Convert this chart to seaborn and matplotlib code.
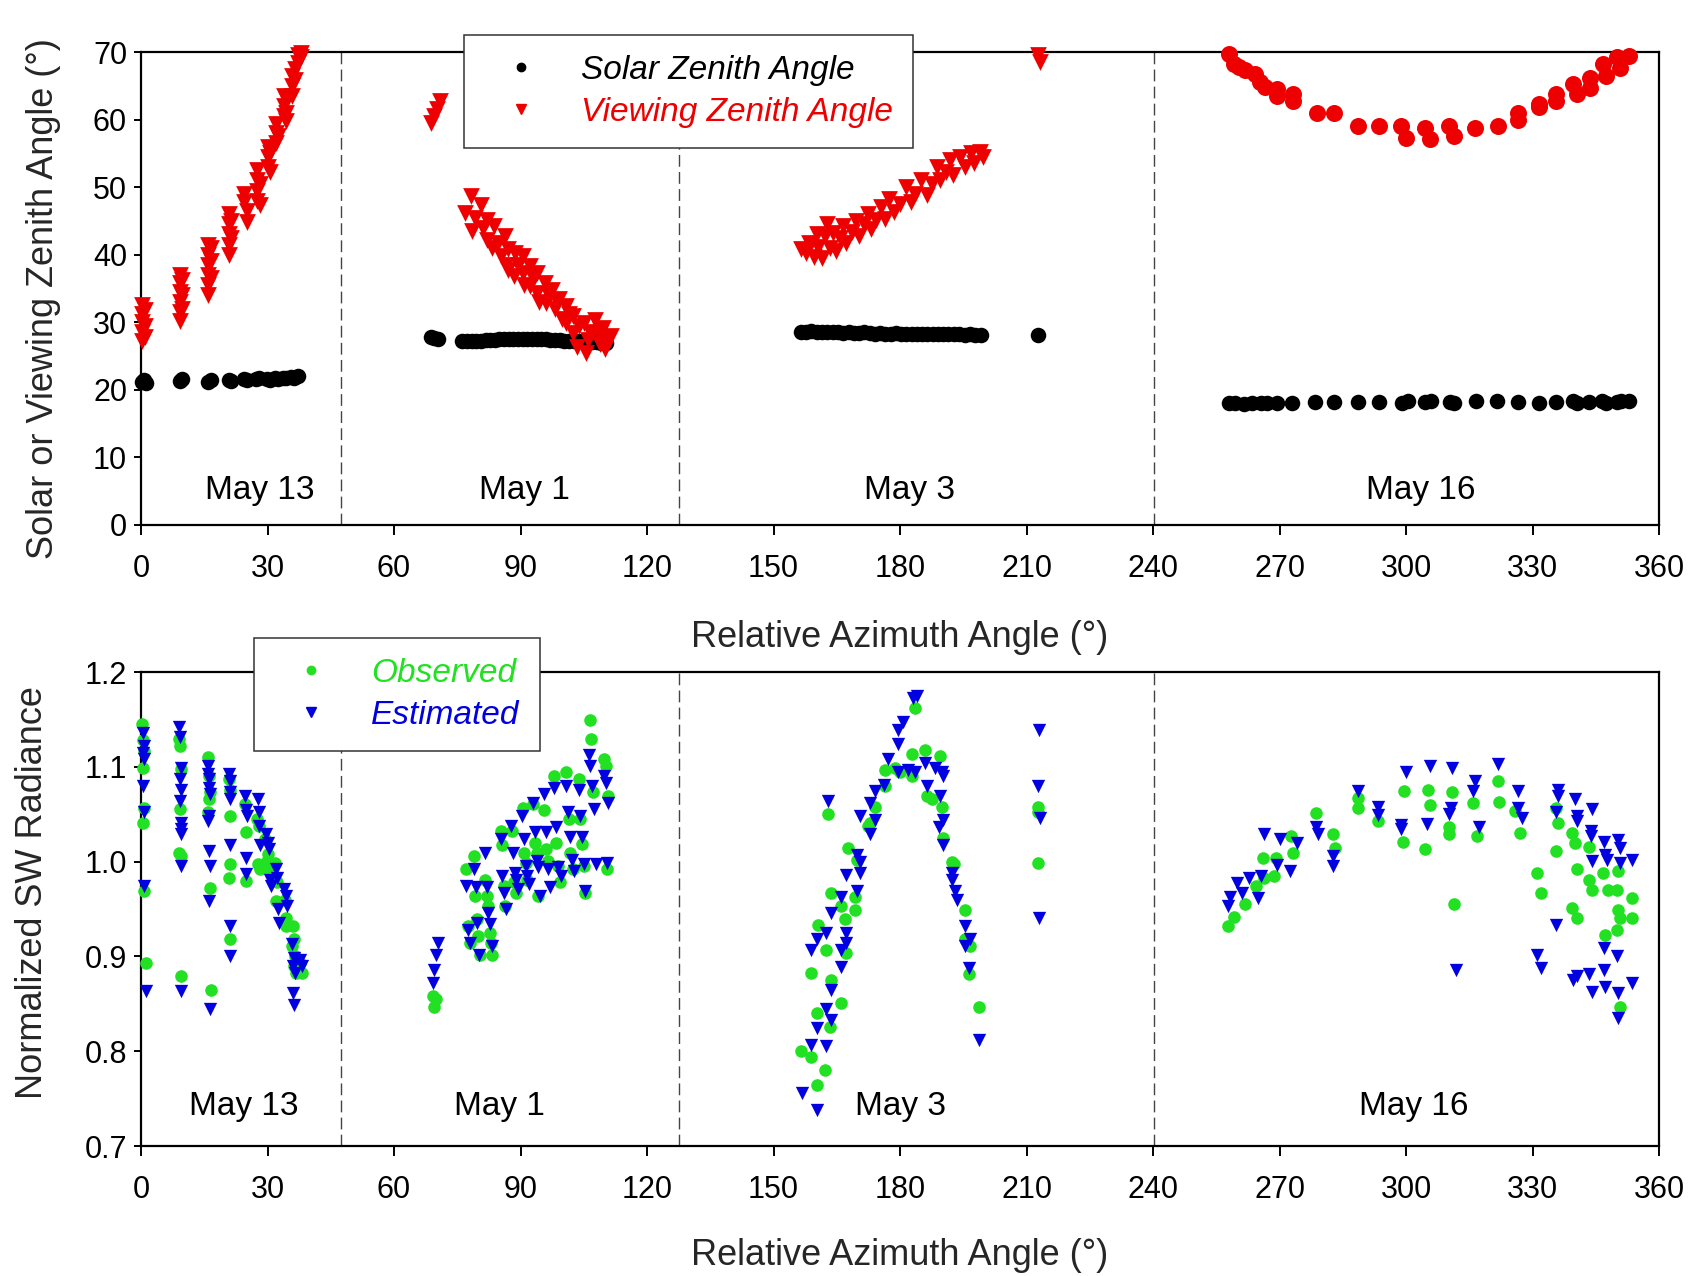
import numpy as np
import pandas as pd
import matplotlib
matplotlib.use("Agg")
import matplotlib.pyplot as plt
from matplotlib.lines import Line2D
import seaborn as sns

# ---------------- DATA (top panel) ----------------
# Solar zenith angle (black dots)
sza13_x = [0.3, 0.8, 1.2, 9.2, 9.8, 15.8, 16.5, 20.8, 21.3, 24.5, 25.2, 27.3, 28.0, 29.8, 30.5, 31.8, 32.5, 33.6, 34.3, 35.5, 36.2, 37.3]
sza13_y = [21.2, 21.5, 21.0, 21.3, 21.6, 21.2, 21.5, 21.4, 21.3, 21.6, 21.5, 21.6, 21.7, 21.6, 21.5, 21.7, 21.6, 21.8, 21.7, 21.9, 21.8, 22.0]
sza1_x = [68.8, 69.6, 70.4, 76.2, 77.3, 78.4, 79.5, 80.6, 81.7, 82.8, 83.9, 85.0, 86.1, 87.2, 88.3, 89.4, 90.5, 91.6, 92.7, 93.8, 94.9, 96.0, 97.1, 98.2, 99.3, 100.4, 101.5, 102.6, 103.7, 104.8, 105.9, 107.0, 108.1, 109.2, 110.3]
sza1_y = [27.8, 27.7, 27.6, 27.2, 27.2, 27.3, 27.3, 27.3, 27.4, 27.4, 27.4, 27.5, 27.5, 27.5, 27.5, 27.6, 27.6, 27.6, 27.6, 27.5, 27.5, 27.5, 27.4, 27.4, 27.4, 27.3, 27.3, 27.3, 27.2, 27.2, 27.2, 27.1, 27.1, 27.0, 27.0]
sza3_x = [156.5, 157.8, 159.0, 160.3, 161.5, 162.8, 164.0, 165.3, 166.5, 167.8, 169.0, 170.3, 171.5, 172.8, 174.0, 175.3, 176.5, 177.8, 179.0, 180.3, 181.5, 182.8, 184.0, 185.3, 186.5, 187.8, 189.0, 190.3, 191.5, 192.8, 194.0, 195.3, 196.5, 197.8, 199.2, 212.8]
sza3_y = [28.6, 28.6, 28.7, 28.6, 28.5, 28.6, 28.5, 28.5, 28.4, 28.5, 28.4, 28.4, 28.5, 28.4, 28.3, 28.4, 28.3, 28.3, 28.4, 28.3, 28.3, 28.2, 28.3, 28.3, 28.2, 28.3, 28.2, 28.2, 28.3, 28.2, 28.2, 28.1, 28.2, 28.1, 28.1, 28.1]
sza16_x = [258.0, 259.5, 261.5, 263.5, 265.5, 267.0, 269.5, 273.0, 278.5, 283.0, 288.5, 293.5, 299.0, 300.5, 304.5, 306.0, 310.5, 311.5, 316.5, 321.5, 326.5, 331.5, 335.5, 339.5, 340.5, 343.5, 346.5, 347.5, 350.0, 351.0, 353.0]
sza16_y = [18.0, 18.1, 17.9, 18.0, 18.1, 18.0, 18.1, 18.1, 18.2, 18.2, 18.2, 18.2, 18.1, 18.3, 18.2, 18.3, 18.2, 18.1, 18.3, 18.4, 18.2, 18.1, 18.2, 18.3, 18.1, 18.2, 18.3, 18.1, 18.2, 18.3, 18.3]

# Viewing zenith angle (red)
vza13_x = [0.3, 0.3, 0.3, 0.3, 0.3, 0.9, 0.9, 0.9, 9.2, 9.2, 9.2, 9.2, 9.2, 9.2, 9.8, 9.8, 9.8,
           15.8, 15.8, 15.8, 15.8, 15.8, 15.8, 16.5, 16.5, 16.5, 20.8, 20.8, 20.8, 20.8, 20.8, 21.3, 21.3,
           24.5, 24.5, 25.2, 25.2, 27.5, 27.5, 27.5, 27.5, 28.2, 28.2, 30.0, 30.0, 30.0, 30.6, 30.6,
           32.0, 32.0, 32.0, 32.5, 33.8, 33.8, 33.8, 34.5, 34.5, 34.5, 35.8, 35.8, 35.8, 36.5, 36.5,
           37.3, 37.3, 38.0, 38.0]
vza13_y = [32.5, 31.2, 30.0, 28.5, 27.2, 31.8, 29.5, 27.8, 37.0, 35.8, 34.5, 33.0, 31.5, 30.2, 36.3, 34.0, 32.0,
           41.5, 40.0, 38.5, 37.0, 35.5, 34.0, 41.0, 39.0, 36.5, 46.0, 44.5, 43.0, 41.5, 40.0, 45.0, 42.5,
           49.0, 47.8, 46.5, 44.8, 52.5, 51.0, 49.5, 48.0, 50.5, 47.3, 56.0, 54.5, 53.0, 55.0, 52.3,
           59.3, 58.0, 56.5, 57.5, 63.5, 62.0, 60.5, 63.0, 61.0, 59.8, 66.5, 65.0, 63.5, 67.5, 65.8,
           69.5, 68.3, 69.8, 69.2]
vza1_x = [68.8, 69.5, 70.3, 70.9,
          76.9, 78.2, 78.6, 79.3, 80.7, 81.2, 82.0, 82.0, 83.7, 83.2, 84.6, 85.4, 86.3, 86.5, 87.1,
          87.1, 88.8, 88.5, 89.5, 90.5, 90.5, 90.8, 92.2, 92.2, 93.0, 94.0, 94.0, 94.5, 95.7, 96.1,
          96.5, 97.4, 98.2, 98.5, 99.1, 99.8, 100.8, 100.8, 101.5, 102.5, 102.5, 103.3, 103.8, 105.0, 105.9,
          105.5, 106.5, 107.6, 108.4, 108.8, 110.1, 110.1, 111.4, 109.5]
vza1_y = [59.5, 60.5, 61.5, 62.7,
          46.2, 48.7, 43.5, 45.5, 47.4, 44.0, 45.2, 42.2, 44.2, 41.0, 41.8, 39.8, 42.7, 38.5, 40.8,
          37.8, 40.3, 36.8, 38.5, 39.8, 37.3, 35.5, 38.3, 35.3, 36.5, 37.3, 34.3, 33.0, 35.8, 32.9,
          34.2, 34.8, 31.9, 33.3, 33.4, 30.5, 32.4, 29.9, 31.2, 30.9, 28.4, 26.4, 29.5, 29.9, 27.4,
          25.5, 28.5, 30.4, 28.4, 26.8, 27.4, 26.0, 27.9, 29.2]
vza3_x = [156.5, 157.8, 158.5, 159.5, 160.2, 160.6, 161.5, 162.2, 162.8, 163.4, 164.0, 164.8, 165.7, 166.5, 167.3,
          168.5, 169.5, 170.2, 171.5, 172.5, 173.2, 174.4, 175.5, 176.5, 177.5, 178.5, 180.0, 181.5, 182.5, 183.5,
          185.0, 186.3, 187.5, 188.7, 189.5, 190.8, 191.8, 192.6, 194.2, 195.5, 196.8, 197.5, 199.0, 199.7,
          212.8, 213.2]
vza3_y = [40.8, 40.3, 41.8, 39.6, 43.0, 41.2, 39.5, 42.8, 44.5, 41.0, 43.2, 40.5, 42.5, 44.3, 41.8,
          43.3, 45.0, 42.8, 44.5, 46.0, 43.8, 45.2, 47.0, 45.3, 48.2, 46.3, 47.5, 50.0, 47.8, 49.0,
          51.0, 48.8, 50.5, 53.0, 51.0, 52.2, 54.0, 51.8, 54.5, 53.0, 55.0, 53.5, 55.2, 54.5,
          69.5, 68.5]
vza16_x = [258.1, 259.3, 260.5, 261.7, 264.2, 265.4, 266.6, 269.5, 269.5, 273.2, 273.2, 278.9, 283.0, 288.7, 293.6,
           298.9, 300.1, 304.6, 305.8, 310.3, 311.5, 316.4, 321.7, 326.6, 326.6, 331.5, 331.5, 335.6, 335.6,
           339.6, 340.5, 343.7, 343.7, 346.7, 347.5, 350.0, 350.8, 352.8]
vza16_y = [69.7, 68.2, 67.8, 67.4, 66.7, 65.5, 64.8, 64.5, 63.5, 63.8, 62.8, 61.0, 61.0, 59.0, 59.0,
           59.0, 57.3, 58.8, 57.1, 59.0, 57.6, 58.8, 59.0, 61.0, 60.0, 62.3, 61.8, 63.8, 62.8,
           65.2, 63.8, 66.2, 64.7, 68.2, 66.5, 69.2, 67.7, 69.4]

# ---------------- DATA (bottom panel) ----------------
obs13_x = [0.3, 0.5, 0.8, 0.5, 0.8, 0.5, 0.8, 1.2, 9.0, 9.3, 9.5, 9.3, 9.0, 9.5, 9.6,
           15.9, 16.1, 16.3, 16.1, 16.0, 16.3, 16.6, 20.8, 21.0, 21.2, 21.0, 20.8, 21.0,
           24.6, 25.0, 24.8, 27.6, 28.0, 27.8, 28.2, 29.5, 30.0, 29.8, 30.2, 31.8, 32.2, 32.0,
           34.1, 34.5, 34.3, 36.0, 36.3, 35.8, 36.5, 36.2, 36.8, 37.7, 38.2]
obs13_y = [1.145, 1.128, 1.117, 1.099, 1.057, 1.041, 0.969, 0.893, 1.129, 1.122, 1.098, 1.055, 1.009, 1.006, 0.879,
           1.110, 1.090, 1.073, 1.066, 1.052, 0.972, 0.865, 1.087, 1.076, 1.048, 0.997, 0.983, 0.918,
           1.061, 1.031, 0.980, 1.045, 1.038, 0.997, 0.992, 1.024, 1.008, 1.001, 0.992, 0.999, 0.978, 0.958,
           0.960, 0.941, 0.932, 0.932, 0.918, 0.911, 0.900, 0.890, 0.883, 0.893, 0.883]
est13_x = [0.4, 0.6, 0.5, 0.7, 0.5, 0.6, 0.8, 1.3, 9.1, 9.3, 9.4, 9.2, 9.5, 9.3, 9.4, 9.6, 9.5, 9.4, 9.6,
           15.9, 16.0, 16.2, 16.1, 16.3, 16.2, 16.0, 16.1, 16.3, 16.1, 16.4, 20.9, 21.1, 21.0, 21.2, 21.0, 21.0, 21.1,
           24.7, 24.9, 25.2, 24.8, 25.0, 27.7, 28.1, 27.9, 28.3, 29.6, 30.0, 30.3, 30.6, 30.9,
           31.9, 32.3, 32.5, 32.8, 34.0, 34.4, 34.6, 35.9, 36.3, 36.0, 36.6, 36.1, 36.4, 37.8, 38.3]
est13_y = [1.136, 1.122, 1.115, 1.108, 1.080, 1.052, 0.974, 0.863, 1.142, 1.131, 1.099, 1.087, 1.076, 1.064, 1.041, 1.034, 1.029, 0.995, 0.863,
           1.101, 1.092, 1.087, 1.078, 1.071, 1.048, 1.043, 1.011, 0.995, 0.958, 0.844, 1.092, 1.085, 1.073, 1.066, 1.017, 0.932, 0.900,
           1.069, 1.054, 1.048, 1.004, 0.987, 1.066, 1.052, 1.038, 1.017, 1.029, 1.020, 1.013, 0.981, 0.974,
           0.992, 0.983, 0.950, 0.935, 0.971, 0.964, 0.953, 0.913, 0.898, 0.890, 0.883, 0.861, 0.849, 0.896, 0.890]
obs1_x = [69.3, 69.6, 70.0, 77.0, 77.5, 78.0, 79.0, 79.3, 79.6, 80.0, 80.3, 81.5, 82.0, 82.4, 82.8, 83.0, 83.3,
          85.3, 85.6, 86.0, 86.4, 88.0, 88.5, 89.0, 90.5, 90.8, 91.2, 91.6, 93.0, 93.4, 93.8, 94.2,
          95.5, 96.0, 96.5, 98.0, 98.5, 99.0, 99.4, 100.8, 101.4, 101.8, 102.4, 103.8, 104.2, 104.6, 105.0, 105.3,
          106.5, 106.8, 107.2, 109.8, 110.3, 110.8, 110.5]
obs1_y = [0.858, 0.847, 0.855, 0.992, 0.932, 0.914, 1.006, 0.964, 0.939, 0.921, 0.902, 0.981, 0.964, 0.953, 0.925, 0.914, 0.902,
          1.032, 1.017, 0.974, 0.953, 1.032, 0.978, 0.967, 1.057, 1.009, 0.999, 0.981, 1.061, 1.020, 1.009, 0.964,
          1.054, 1.013, 1.001, 1.090, 1.020, 0.995, 0.978, 1.094, 1.045, 1.009, 0.992, 1.087, 1.045, 1.019, 0.995, 0.967,
          1.149, 1.129, 1.073, 1.108, 1.101, 1.069, 0.992]
est1_x = [70.4, 70.0, 69.5, 69.2, 77.0, 77.5, 78.0, 79.0, 79.4, 79.8, 80.2, 81.5, 82.0, 82.4, 82.8, 83.2,
          85.3, 85.7, 86.1, 86.5, 87.8, 88.2, 88.6, 89.0, 89.4, 90.4, 90.8, 91.2, 91.6, 92.0,
          93.0, 93.4, 93.8, 94.2, 94.6, 95.5, 96.0, 96.5, 97.0, 98.0, 98.5, 99.0, 99.5,
          100.8, 101.3, 101.8, 102.3, 102.8, 103.8, 104.2, 104.6, 105.0, 105.4,
          106.2, 106.6, 107.0, 107.4, 107.8, 109.8, 110.3, 110.8, 110.5]
est1_y = [0.914, 0.902, 0.886, 0.872, 0.974, 0.928, 0.914, 0.992, 0.973, 0.935, 0.902, 1.009, 0.973, 0.946, 0.934, 0.911,
          1.024, 0.985, 0.967, 0.950, 1.038, 1.009, 0.988, 0.981, 0.971, 1.048, 1.024, 0.995, 0.985, 0.976,
          1.062, 1.031, 1.001, 0.994, 0.964, 1.071, 1.031, 0.992, 0.973, 1.078, 1.036, 0.994, 0.985,
          1.080, 1.052, 1.026, 1.002, 0.990, 1.076, 1.048, 1.026, 0.997, 0.969,
          1.112, 1.101, 1.080, 1.055, 0.997, 1.090, 1.083, 1.062, 0.999]
obs3_x = [156.6, 159.0, 160.2, 162.2, 159.0, 160.2, 160.6, 162.5, 163.3, 163.7, 163.7, 162.9, 166.1, 166.1, 166.9, 167.3,
          167.7, 169.3, 169.3, 169.7, 172.5, 172.9, 174.1, 176.5, 176.5, 178.8, 180.0, 182.8, 183.6, 182.8, 186.0, 189.6,
          186.4, 187.6, 189.9, 190.3, 192.3, 192.7, 195.5, 195.5, 196.7, 196.3, 198.7, 212.8, 212.8, 212.8]
obs3_y = [0.800, 0.794, 0.764, 0.780, 0.882, 0.840, 0.933, 0.907, 0.826, 0.875, 0.967, 1.050, 0.953, 0.851, 0.939, 0.904,
          1.014, 0.963, 0.949, 1.002, 1.038, 1.041, 1.058, 1.080, 1.097, 1.099, 1.094, 1.113, 1.162, 1.090, 1.118, 1.111,
          1.069, 1.066, 1.058, 1.025, 1.000, 0.997, 0.949, 0.918, 0.911, 0.881, 0.847, 1.058, 1.052, 0.999]
est3_x = [156.8, 160.2, 159.0, 162.5, 160.2, 162.5, 163.7, 163.7, 159.0, 160.2, 162.5, 162.9, 166.1, 166.1, 167.3, 167.3,
          163.7, 166.1, 167.3, 169.7, 170.5, 169.7, 170.5, 170.5, 172.9, 174.1, 172.9, 174.1, 176.1, 177.2, 179.6, 179.6,
          180.8, 179.6, 182.0, 183.2, 184.0, 183.6, 186.0, 186.4, 188.4, 189.6, 189.9, 190.3, 190.3, 189.2, 190.3, 192.3,
          192.3, 193.1, 193.5, 195.5, 195.5, 196.7, 196.3, 198.7, 213.0, 212.7, 213.1, 212.9]
est3_y = [0.756, 0.738, 0.807, 0.805, 0.824, 0.845, 0.833, 0.865, 0.907, 0.918, 0.925, 1.064, 0.889, 0.907, 0.925, 0.914,
          0.946, 0.963, 0.986, 0.969, 0.988, 1.007, 1.000, 1.048, 1.029, 1.044, 1.062, 1.074, 1.081, 1.108, 1.124, 1.139,
          1.147, 1.095, 1.097, 1.173, 1.175, 1.094, 1.104, 1.080, 1.099, 1.069, 1.095, 1.090, 1.044, 1.037, 1.018, 0.988,
          0.981, 0.969, 0.960, 0.932, 0.911, 0.918, 0.888, 0.812, 1.139, 1.080, 1.046, 0.940]
obs16_x = [257.7, 259.1, 261.9, 264.4, 266.0, 266.4, 269.1, 268.7, 272.8, 273.2, 278.7, 282.8, 283.2, 288.5, 288.5,
           293.4, 299.6, 299.2, 305.3, 305.7, 304.5, 311.0, 310.2, 310.2, 311.4, 315.9, 316.8, 321.7, 322.1, 325.8,
           327.0, 331.1, 331.9, 335.6, 336.0, 335.6, 339.3, 340.1, 340.5, 339.3, 340.5, 343.4, 343.4, 344.2, 346.7,
           347.2, 348.0, 350.0, 350.3, 350.3, 350.7, 350.0, 350.7, 353.6, 353.6]
obs16_y = [0.932, 0.942, 0.955, 0.974, 1.004, 0.983, 1.004, 0.985, 1.027, 1.009, 1.051, 1.029, 1.014, 1.067, 1.057,
           1.043, 1.074, 1.021, 1.076, 1.060, 1.013, 1.073, 1.037, 1.029, 0.955, 1.062, 1.027, 1.085, 1.063, 1.053,
           1.030, 0.988, 0.967, 1.057, 1.041, 1.011, 1.030, 1.020, 0.992, 0.951, 0.940, 1.015, 0.981, 0.970, 0.988,
           0.923, 0.970, 0.970, 0.990, 0.949, 0.940, 0.928, 0.847, 0.962, 0.940]
est16_x = [257.7, 258.2, 259.9, 261.1, 262.7, 264.8, 265.6, 266.4, 269.3, 270.1, 272.6, 274.2, 278.7, 279.1, 282.8,
           282.8, 288.5, 293.4, 293.4, 298.8, 298.8, 300.0, 304.9, 305.7, 311.0, 310.6, 310.2, 311.9, 316.4, 316.0,
           317.2, 321.9, 326.6, 326.6, 327.4, 331.1, 331.9, 336.0, 336.0, 335.6, 335.6, 340.1, 340.5, 340.5, 339.6,
           340.5, 344.2, 343.8, 343.8, 344.2, 343.4, 344.2, 346.9, 347.3, 347.7, 346.9, 346.9, 347.3, 350.3, 350.7,
           350.7, 350.0, 350.3, 350.3, 353.6, 353.6]
est16_y = [0.953, 0.963, 0.977, 0.967, 0.983, 0.962, 0.985, 1.029, 0.996, 1.024, 0.990, 1.020, 1.037, 1.029, 1.006,
           0.995, 1.074, 1.058, 1.049, 1.039, 1.034, 1.094, 1.040, 1.101, 1.099, 1.057, 1.050, 0.886, 1.085, 1.074,
           1.037, 1.103, 1.074, 1.057, 1.046, 0.902, 0.888, 1.076, 1.069, 1.052, 0.933, 1.066, 1.048, 1.043, 0.875,
           0.879, 1.055, 1.032, 1.027, 1.001, 0.881, 0.862, 1.021, 1.007, 1.002, 0.909, 0.886, 0.868, 1.023, 1.014,
           0.998, 0.900, 0.861, 0.835, 1.002, 0.872]

day_labels = ["May 13", "May 1", "May 3", "May 16"]
day_label_x_top = [28.2, 90.9, 182.3, 303.4]
day_label_x_bot = [24.3, 85.0, 180.2, 301.8]
day_bounds = [47.5, 127.5, 240.3]
x_ticks = list(range(0, 361, 30))
y_ticks_top = list(range(0, 71, 10))
y_ticks_bot = [0.7, 0.8, 0.9, 1.0, 1.1, 1.2]

# ---------------- STYLE ----------------
sns.set_style("ticks")
plt.rcParams["font.family"] = ["Liberation Sans", "DejaVu Sans"]

RED = "#ee0000"
GREEN = "#22e022"
BLUE = "#0000e0"

W, H = 1692, 1276
fig = plt.figure(figsize=(W / 100, H / 100), dpi=100)
ax1 = fig.add_axes([141 / W, 1 - 525 / H, (1659 - 141) / W, (525 - 52) / H])
ax2 = fig.add_axes([141 / W, 1 - 1146 / H, (1659 - 141) / W, (1146 - 672) / H])

def cat(*lists):
    out = []
    for l in lists:
        out += l
    return out

top_sza = pd.DataFrame({"x": cat(sza13_x, sza1_x, sza3_x, sza16_x), "y": cat(sza13_y, sza1_y, sza3_y, sza16_y)})
top_vza = pd.DataFrame({"x": cat(vza13_x, vza1_x, vza3_x), "y": cat(vza13_y, vza1_y, vza3_y)})
top_vza16 = pd.DataFrame({"x": vza16_x, "y": vza16_y})
bot_obs = pd.DataFrame({"x": cat(obs13_x, obs1_x, obs3_x, obs16_x), "y": cat(obs13_y, obs1_y, obs3_y, obs16_y)})
bot_est = pd.DataFrame({"x": cat(est13_x, est1_x, est3_x, est16_x), "y": cat(est13_y, est1_y, est3_y, est16_y)})

common = dict(linewidth=0, legend=False, clip_on=False)
sns.scatterplot(data=top_sza, x="x", y="y", ax=ax1, color="black", marker="o", s=125, zorder=3, **common)
sns.scatterplot(data=top_vza, x="x", y="y", ax=ax1, color=RED, marker="v", s=145, zorder=4, **common)
sns.scatterplot(data=top_vza16, x="x", y="y", ax=ax1, color=RED, marker="o", s=150, zorder=4, **common)
sns.scatterplot(data=bot_obs, x="x", y="y", ax=ax2, color=GREEN, marker="o", s=82, zorder=3, **common)
sns.scatterplot(data=bot_est, x="x", y="y", ax=ax2, color=BLUE, marker="v", s=92, zorder=4, **common)

for ax, ylim, yt, lab_x, lab_y in [
    (ax1, (0, 70), y_ticks_top, day_label_x_top, 5.1),
    (ax2, (0.7, 1.2), y_ticks_bot, day_label_x_bot, 0.742),
]:
    ax.set_xlim(0, 360)
    ax.set_ylim(*ylim)
    ax.set_xticks(x_ticks)
    ax.set_yticks(yt)
    for b in day_bounds:
        ax.axvline(b, color="#444444", lw=1.0, ls=(0, (8.5, 3.8)), zorder=1)
    for name, xx in zip(day_labels, lab_x):
        ax.text(xx, lab_y, name, ha="center", va="center", fontsize=24, color="black")
    for sp in ax.spines.values():
        sp.set_linewidth(1.6)
        sp.set_color("black")
        sp.set_visible(True)
    ax.tick_params(axis="x", direction="out", length=7, width=1.4, labelsize=22, pad=14, colors="black")
    ax.tick_params(axis="y", direction="out", length=5, width=1.4, labelsize=22, pad=5, colors="black")
    ax.set_xlabel("Relative Azimuth Angle (°)", fontsize=26)

ax2.set_yticklabels([f"{v:.1f}" for v in y_ticks_bot])
ax1.set_ylabel("Solar or Viewing Zenith Angle (°)", fontsize=26)
ax2.set_ylabel("Normalized SW Radiance", fontsize=26)
ax1.xaxis.set_label_coords(0.5, -0.20)
ax2.xaxis.set_label_coords(0.5, -0.195)
ax1.yaxis.set_label_coords(-0.053, 0.478)
ax2.yaxis.set_label_coords(-0.060, 0.534)

leg_kw = dict(loc="upper left", bbox_transform=fig.transFigure, frameon=True, fancybox=False,
              borderpad=0.6, handlelength=2.2, handletextpad=0.72, labelspacing=0.33,
              prop={"style": "italic", "size": 24}, framealpha=1, borderaxespad=0)

h1 = [Line2D([], [], ls="", marker="o", color="black", markersize=6),
      Line2D([], [], ls="", marker="v", color=RED, markersize=7)]
leg1 = ax1.legend(h1, ["Solar Zenith Angle", "Viewing Zenith Angle"],
                  bbox_to_anchor=(464 / W, 1 - 35 / H), **leg_kw)
h2 = [Line2D([], [], ls="", marker="o", color=GREEN, markersize=6),
      Line2D([], [], ls="", marker="v", color=BLUE, markersize=7)]
leg2 = ax2.legend(h2, ["Observed", "Estimated"],
                  bbox_to_anchor=(254 / W, 1 - 638 / H), **leg_kw)
for leg, cols in [(leg1, ["black", RED]), (leg2, [GREEN, BLUE])]:
    fr = leg.get_frame()
    fr.set_edgecolor("#333333")
    fr.set_linewidth(1.1)
    leg.set_zorder(10)
    for t, c in zip(leg.get_texts(), cols):
        t.set_color(c)

fig.savefig("out.png", dpi=100, facecolor="white")
